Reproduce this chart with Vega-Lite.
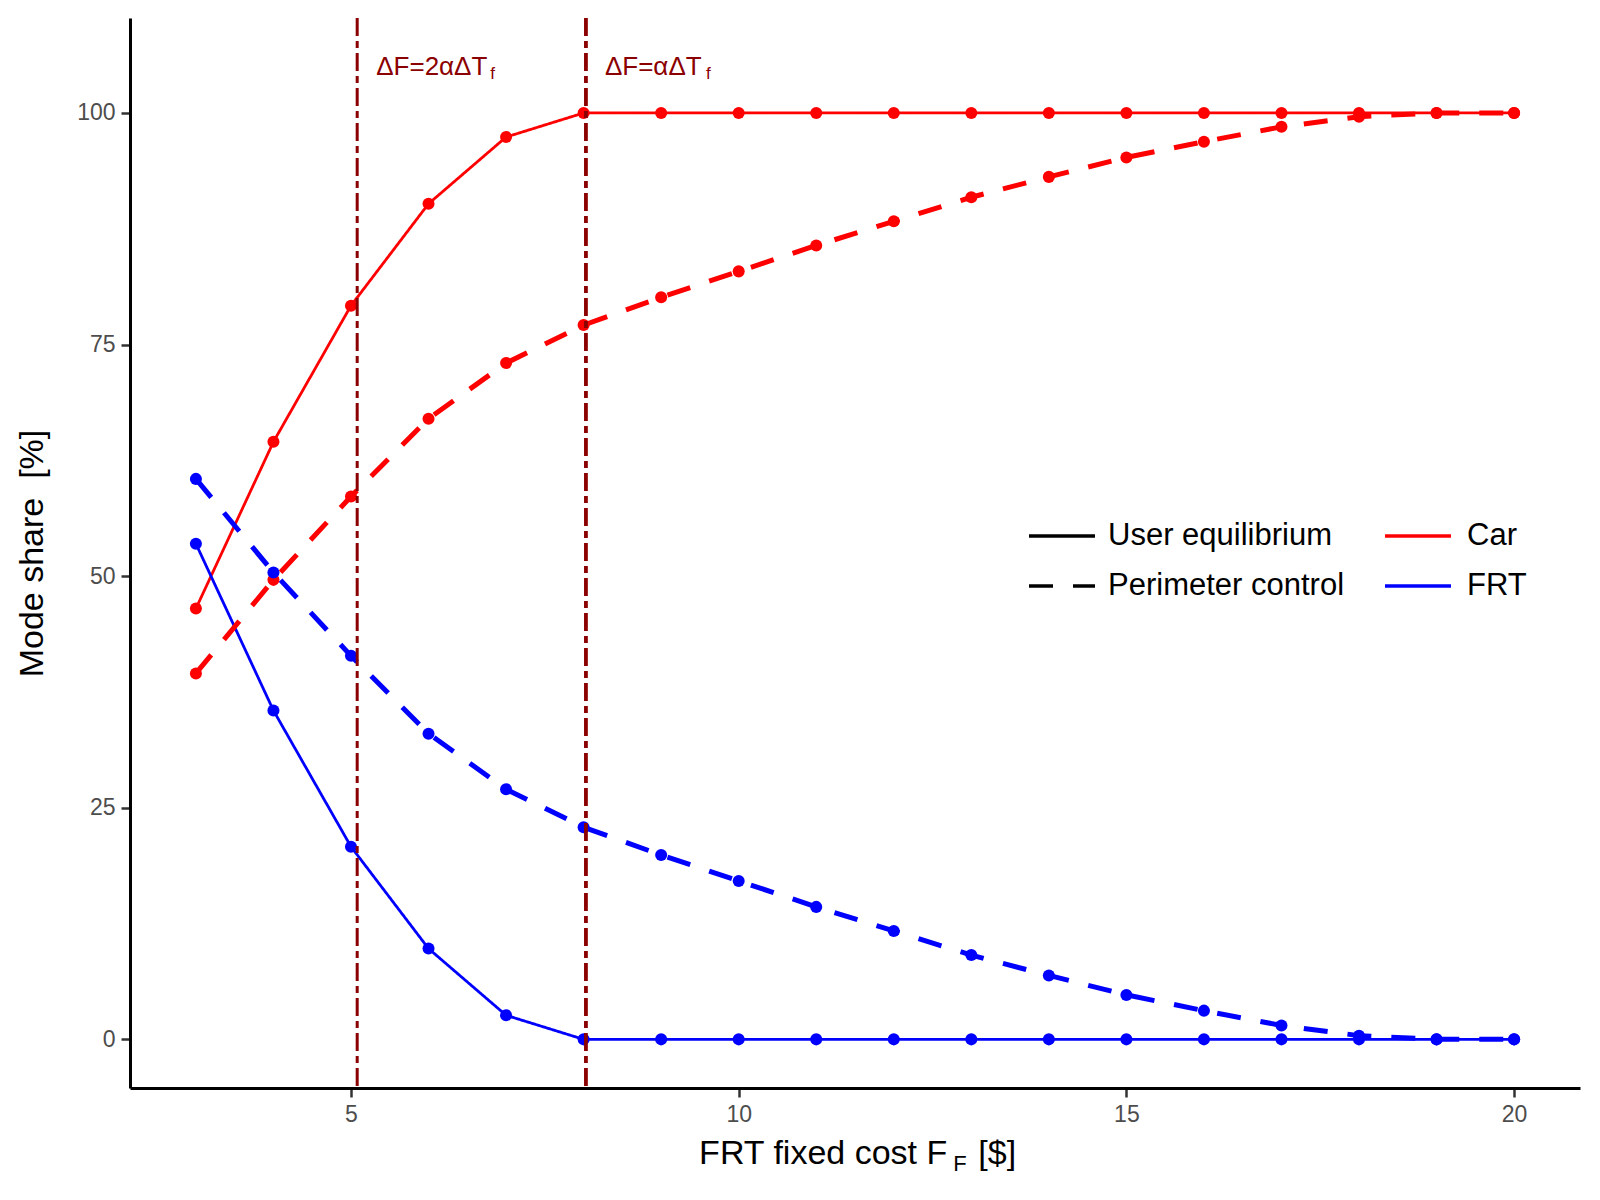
{
  "$schema": "https://vega.github.io/schema/vega-lite/v6.json",
  "description": "Mode share vs FRT fixed cost, user equilibrium vs perimeter control.",
  "autosize": "none",
  "width": 1450,
  "height": 1070,
  "padding": {"left": 130, "top": 18, "right": 20, "bottom": 112},
  "background": "white",
  "config": {
    "view": {"stroke": null},
    "font": "Liberation Sans",
    "axis": {
      "grid": false,
      "domainColor": "black",
      "domainWidth": 3,
      "tickColor": "#333333",
      "tickWidth": 2.5,
      "tickSize": 9,
      "labelColor": "#4D4D4D",
      "labelFont": "Liberation Sans",
      "labelFontSize": 23,
      "labelPadding": 6,
      "titleFont": "Liberation Sans",
      "titleFontSize": 34,
      "titleFontWeight": "normal",
      "titleColor": "black"
    }
  },
  "datasets": {
    "shares": [
      {"F": 3, "share": 46.5, "mode": "Car", "scenario": "User equilibrium"},
      {"F": 4, "share": 64.5, "mode": "Car", "scenario": "User equilibrium"},
      {"F": 5, "share": 79.2, "mode": "Car", "scenario": "User equilibrium"},
      {"F": 6, "share": 90.2, "mode": "Car", "scenario": "User equilibrium"},
      {"F": 7, "share": 97.4, "mode": "Car", "scenario": "User equilibrium"},
      {"F": 8, "share": 100, "mode": "Car", "scenario": "User equilibrium"},
      {"F": 9, "share": 100, "mode": "Car", "scenario": "User equilibrium"},
      {"F": 10, "share": 100, "mode": "Car", "scenario": "User equilibrium"},
      {"F": 11, "share": 100, "mode": "Car", "scenario": "User equilibrium"},
      {"F": 12, "share": 100, "mode": "Car", "scenario": "User equilibrium"},
      {"F": 13, "share": 100, "mode": "Car", "scenario": "User equilibrium"},
      {"F": 14, "share": 100, "mode": "Car", "scenario": "User equilibrium"},
      {"F": 15, "share": 100, "mode": "Car", "scenario": "User equilibrium"},
      {"F": 16, "share": 100, "mode": "Car", "scenario": "User equilibrium"},
      {"F": 17, "share": 100, "mode": "Car", "scenario": "User equilibrium"},
      {"F": 18, "share": 100, "mode": "Car", "scenario": "User equilibrium"},
      {"F": 19, "share": 100, "mode": "Car", "scenario": "User equilibrium"},
      {"F": 20, "share": 100, "mode": "Car", "scenario": "User equilibrium"},
      {"F": 3, "share": 53.5, "mode": "FRT", "scenario": "User equilibrium"},
      {"F": 4, "share": 35.5, "mode": "FRT", "scenario": "User equilibrium"},
      {"F": 5, "share": 20.8, "mode": "FRT", "scenario": "User equilibrium"},
      {"F": 6, "share": 9.8, "mode": "FRT", "scenario": "User equilibrium"},
      {"F": 7, "share": 2.6, "mode": "FRT", "scenario": "User equilibrium"},
      {"F": 8, "share": 0, "mode": "FRT", "scenario": "User equilibrium"},
      {"F": 9, "share": 0, "mode": "FRT", "scenario": "User equilibrium"},
      {"F": 10, "share": 0, "mode": "FRT", "scenario": "User equilibrium"},
      {"F": 11, "share": 0, "mode": "FRT", "scenario": "User equilibrium"},
      {"F": 12, "share": 0, "mode": "FRT", "scenario": "User equilibrium"},
      {"F": 13, "share": 0, "mode": "FRT", "scenario": "User equilibrium"},
      {"F": 14, "share": 0, "mode": "FRT", "scenario": "User equilibrium"},
      {"F": 15, "share": 0, "mode": "FRT", "scenario": "User equilibrium"},
      {"F": 16, "share": 0, "mode": "FRT", "scenario": "User equilibrium"},
      {"F": 17, "share": 0, "mode": "FRT", "scenario": "User equilibrium"},
      {"F": 18, "share": 0, "mode": "FRT", "scenario": "User equilibrium"},
      {"F": 19, "share": 0, "mode": "FRT", "scenario": "User equilibrium"},
      {"F": 20, "share": 0, "mode": "FRT", "scenario": "User equilibrium"},
      {"F": 3, "share": 39.5, "mode": "Car", "scenario": "Perimeter control"},
      {"F": 4, "share": 49.6, "mode": "Car", "scenario": "Perimeter control"},
      {"F": 5, "share": 58.6, "mode": "Car", "scenario": "Perimeter control"},
      {"F": 6, "share": 67.0, "mode": "Car", "scenario": "Perimeter control"},
      {"F": 7, "share": 73.0, "mode": "Car", "scenario": "Perimeter control"},
      {"F": 8, "share": 77.1, "mode": "Car", "scenario": "Perimeter control"},
      {"F": 9, "share": 80.1, "mode": "Car", "scenario": "Perimeter control"},
      {"F": 10, "share": 82.9, "mode": "Car", "scenario": "Perimeter control"},
      {"F": 11, "share": 85.7, "mode": "Car", "scenario": "Perimeter control"},
      {"F": 12, "share": 88.3, "mode": "Car", "scenario": "Perimeter control"},
      {"F": 13, "share": 90.9, "mode": "Car", "scenario": "Perimeter control"},
      {"F": 14, "share": 93.1, "mode": "Car", "scenario": "Perimeter control"},
      {"F": 15, "share": 95.2, "mode": "Car", "scenario": "Perimeter control"},
      {"F": 16, "share": 96.9, "mode": "Car", "scenario": "Perimeter control"},
      {"F": 17, "share": 98.5, "mode": "Car", "scenario": "Perimeter control"},
      {"F": 18, "share": 99.6, "mode": "Car", "scenario": "Perimeter control"},
      {"F": 19, "share": 100, "mode": "Car", "scenario": "Perimeter control"},
      {"F": 20, "share": 100, "mode": "Car", "scenario": "Perimeter control"},
      {"F": 3, "share": 60.5, "mode": "FRT", "scenario": "Perimeter control"},
      {"F": 4, "share": 50.4, "mode": "FRT", "scenario": "Perimeter control"},
      {"F": 5, "share": 41.4, "mode": "FRT", "scenario": "Perimeter control"},
      {"F": 6, "share": 33.0, "mode": "FRT", "scenario": "Perimeter control"},
      {"F": 7, "share": 27.0, "mode": "FRT", "scenario": "Perimeter control"},
      {"F": 8, "share": 22.9, "mode": "FRT", "scenario": "Perimeter control"},
      {"F": 9, "share": 19.9, "mode": "FRT", "scenario": "Perimeter control"},
      {"F": 10, "share": 17.1, "mode": "FRT", "scenario": "Perimeter control"},
      {"F": 11, "share": 14.3, "mode": "FRT", "scenario": "Perimeter control"},
      {"F": 12, "share": 11.7, "mode": "FRT", "scenario": "Perimeter control"},
      {"F": 13, "share": 9.1, "mode": "FRT", "scenario": "Perimeter control"},
      {"F": 14, "share": 6.9, "mode": "FRT", "scenario": "Perimeter control"},
      {"F": 15, "share": 4.8, "mode": "FRT", "scenario": "Perimeter control"},
      {"F": 16, "share": 3.1, "mode": "FRT", "scenario": "Perimeter control"},
      {"F": 17, "share": 1.5, "mode": "FRT", "scenario": "Perimeter control"},
      {"F": 18, "share": 0.4, "mode": "FRT", "scenario": "Perimeter control"},
      {"F": 19, "share": 0, "mode": "FRT", "scenario": "Perimeter control"},
      {"F": 20, "share": 0, "mode": "FRT", "scenario": "Perimeter control"}
    ],
    "events": [
      {"F": 5.08, "label": "ΔF=2αΔT", "sub": "f"},
      {"F": 8.03, "label": "ΔF=αΔT", "sub": "f"}
    ],
    "xtitle": [
      {"part": "main", "t": "FRT fixed cost F"},
      {"part": "sub", "t": "F"},
      {"part": "unit", "t": "[$]"}
    ]
  },
  "layer": [
    {
      "data": {"name": "shares"},
      "transform": [{"filter": "datum.scenario === 'User equilibrium'"}],
      "mark": {"type": "line", "strokeCap": "butt", "strokeWidth": 2.8},
      "encoding": {
        "x": {"field": "F", "type": "quantitative",
              "scale": {"domain": [2.15, 20.85], "nice": false, "zero": false},
              "axis": {"values": [5, 10, 15, 20], "format": "d", "title": null}},
        "y": {"field": "share", "type": "quantitative",
              "scale": {"domain": [-5.25, 110.25], "nice": false, "zero": false},
              "axis": {"values": [0, 25, 50, 75, 100], "format": "d", "title": "Mode share\u00a0 [%]", "titlePadding": 27}},
        "color": {"field": "mode", "type": "nominal",
                  "scale": {"domain": ["Car", "FRT"], "range": ["#FF0000", "#0000FF"]},
                  "legend": {"orient": "none", "legendX": 1253, "legendY": 483, "title": null,
                             "symbolType": "stroke", "symbolSize": 4356, "symbolStrokeWidth": 3.5,
                             "labelFontSize": 31, "labelFont": "Liberation Sans", "labelColor": "black",
                             "labelOffset": 14, "rowPadding": -26, "labelLimit": 400}},
        "strokeDash": {"field": "scenario", "type": "nominal",
                       "scale": {"domain": ["User equilibrium", "Perimeter control"], "range": [[1, 0], [24, 20]]},
                       "legend": {"orient": "none", "legendX": 897, "legendY": 483, "title": null,
                                  "symbolType": "stroke", "symbolSize": 4356, "symbolStrokeWidth": 3.5,
                                  "symbolStrokeColor": "black",
                                  "labelFontSize": 31, "labelFont": "Liberation Sans", "labelColor": "black",
                                  "labelOffset": 11, "rowPadding": -26, "labelLimit": 400}},
        "order": {"field": "F", "type": "quantitative"}
      }
    },
    {
      "data": {"name": "shares"},
      "transform": [{"filter": "datum.scenario === 'Perimeter control'"}],
      "mark": {"type": "line", "strokeCap": "butt", "strokeWidth": 5},
      "encoding": {
        "x": {"field": "F", "type": "quantitative", "scale": {"domain": [2.15, 20.85], "nice": false, "zero": false}},
        "y": {"field": "share", "type": "quantitative", "scale": {"domain": [-5.25, 110.25], "nice": false, "zero": false}},
        "color": {"field": "mode", "type": "nominal"},
        "strokeDash": {"field": "scenario", "type": "nominal"},
        "order": {"field": "F", "type": "quantitative"}
      }
    },
    {
      "data": {"name": "shares"},
      "mark": {"type": "point", "filled": true, "opacity": 1, "size": 145, "shape": "circle"},
      "encoding": {
        "x": {"field": "F", "type": "quantitative", "scale": {"domain": [2.15, 20.85], "nice": false, "zero": false}},
        "y": {"field": "share", "type": "quantitative", "scale": {"domain": [-5.25, 110.25], "nice": false, "zero": false}},
        "color": {"field": "mode", "type": "nominal"}
      }
    },
    {
      "data": {"name": "events"},
      "transform": [{"filter": "datum.F < 6"}],
      "mark": {"type": "rule", "color": "#8B0000", "strokeWidth": 3, "strokeDash": [18, 5, 7, 5]},
      "encoding": {
        "x": {"field": "F", "type": "quantitative", "scale": {"domain": [2.15, 20.85], "nice": false, "zero": false}}
      }
    },
    {
      "data": {"name": "events"},
      "transform": [{"filter": "datum.F > 6"}],
      "mark": {"type": "rule", "color": "#8B0000", "strokeWidth": 3.8, "strokeDash": [18, 5, 7, 5]},
      "encoding": {
        "x": {"field": "F", "type": "quantitative"}
      }
    },
    {
      "data": {"name": "events"},
      "mark": {"type": "text", "align": "left", "baseline": "alphabetic", "dx": 19, "fontSize": 26,
               "font": "Liberation Sans", "color": "#8B0000"},
      "encoding": {
        "x": {"field": "F", "type": "quantitative"},
        "y": {"datum": 104.1, "type": "quantitative", "scale": {"domain": [-5.25, 110.25], "nice": false, "zero": false}},
        "text": {"field": "label"}
      }
    },
    {
      "data": {"name": "events"},
      "transform": [{"filter": "datum.F < 6"}],
      "mark": {"type": "text", "align": "left", "baseline": "alphabetic", "dx": 133, "dy": 4, "fontSize": 17,
               "font": "Liberation Sans", "color": "#8B0000"},
      "encoding": {
        "x": {"field": "F", "type": "quantitative"},
        "y": {"datum": 104.1, "type": "quantitative"},
        "text": {"field": "sub"}
      }
    },
    {
      "data": {"name": "events"},
      "transform": [{"filter": "datum.F > 6"}],
      "mark": {"type": "text", "align": "left", "baseline": "alphabetic", "dx": 120, "dy": 4, "fontSize": 17,
               "font": "Liberation Sans", "color": "#8B0000"},
      "encoding": {
        "x": {"field": "F", "type": "quantitative"},
        "y": {"datum": 104.1, "type": "quantitative"},
        "text": {"field": "sub"}
      }
    },
    {
      "data": {"name": "xtitle"},
      "transform": [{"filter": "datum.part === 'main'"}],
      "mark": {"type": "text", "align": "right", "baseline": "alphabetic", "fontSize": 34,
               "font": "Liberation Sans", "color": "black"},
      "encoding": {
        "x": {"datum": 12.69, "type": "quantitative"},
        "y": {"datum": -13.45, "type": "quantitative"},
        "text": {"field": "t"}
      }
    },
    {
      "data": {"name": "xtitle"},
      "transform": [{"filter": "datum.part === 'sub'"}],
      "mark": {"type": "text", "align": "left", "baseline": "alphabetic", "dx": 6, "dy": 7, "fontSize": 22,
               "font": "Liberation Sans", "color": "black"},
      "encoding": {
        "x": {"datum": 12.69, "type": "quantitative"},
        "y": {"datum": -13.45, "type": "quantitative"},
        "text": {"field": "t"}
      }
    },
    {
      "data": {"name": "xtitle"},
      "transform": [{"filter": "datum.part === 'unit'"}],
      "mark": {"type": "text", "align": "left", "baseline": "alphabetic", "dx": 31, "fontSize": 34,
               "font": "Liberation Sans", "color": "black"},
      "encoding": {
        "x": {"datum": 12.69, "type": "quantitative"},
        "y": {"datum": -13.45, "type": "quantitative"},
        "text": {"field": "t"}
      }
    }
  ]
}
